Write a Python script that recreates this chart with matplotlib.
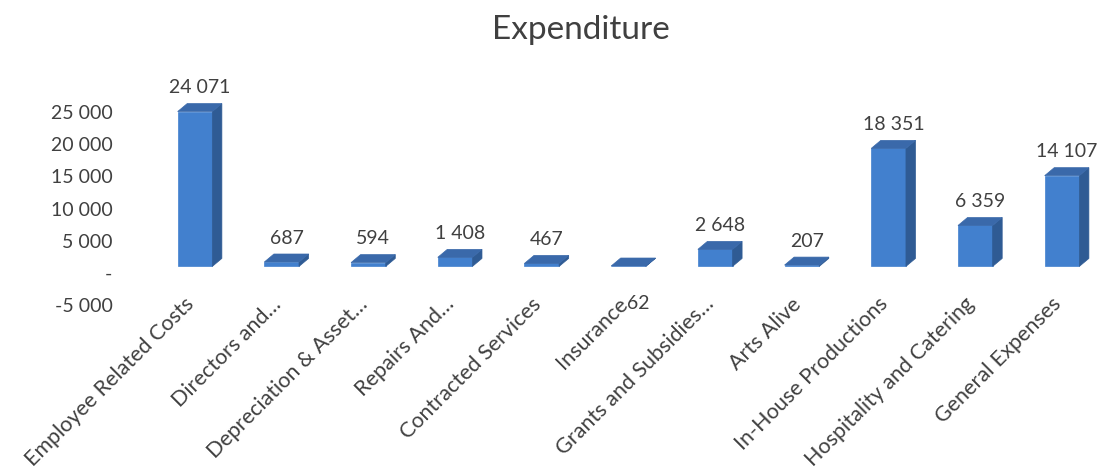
import matplotlib
matplotlib.use("Agg")
import matplotlib.pyplot as plt
from matplotlib.patches import Polygon
from matplotlib.transforms import ScaledTranslation

plt.rcParams['font.family'] = ['Lato', 'DejaVu Sans']

categories = ["Employee Related Costs", "Directors and…", "Depreciation & Asset…",
              "Repairs And…", "Contracted Services", "Insurance",
              "Grants and Subsidies…", "Arts Alive", "In-House Productions",
              "Hospitality and Catering", "General Expenses"]
values = [24071, 687, 594, 1408, 467, 62, 2648, 207, 18351, 6359, 14107]
yticks = [-5000, 0, 5000, 10000, 15000, 20000, 25000]

def fmt(v):
    return "-" if v == 0 else f"{v:,}".replace(",", " ")

W, H = 1098, 474
fig = plt.figure(figsize=(W / 100, H / 100), dpi=100)
ax = fig.add_axes([150 / W, 1 - 305 / H, (W - 150) / W, (305 - 112) / H])
ax.set_xlim(-0.519, 10.415)
ax.set_ylim(-5000, 25000)

front = "#4280CE"
side = "#2F5B94"
top = "#3A69AA"
txt = "#404040"
w = 0.40      # front face width (category units)
dx = 0.11     # depth projection, horizontal
dy = 1240     # depth projection, vertical (data units)
oy = 1000     # perspective lift of bar base

for i, v in enumerate(values):
    x0, x1 = i - w / 2, i + w / 2
    b, t = oy, v + oy
    ax.add_patch(Polygon([(x0, b), (x1, b), (x1, t), (x0, t)], closed=True,
                         facecolor=front, edgecolor=front, lw=0.5, clip_on=False))
    ax.add_patch(Polygon([(x1, b), (x1 + dx, b + dy), (x1 + dx, t + dy), (x1, t)], closed=True,
                         facecolor=side, edgecolor=side, lw=0.5, clip_on=False))
    ax.add_patch(Polygon([(x0, t), (x1, t), (x1 + dx, t + dy), (x0 + dx, t + dy)], closed=True,
                         facecolor=top, edgecolor=top, lw=0.5, clip_on=False))
    if v < 100:
        ax.annotate(fmt(v), (i, 0), xytext=(7, -22), textcoords="offset points",
                    ha="center", va="center", fontsize=14, color=txt,
                    annotation_clip=False)
    else:
        ax.annotate(fmt(v), (i + dx / 2, t + dy), xytext=(0, 11.5), textcoords="offset points",
                    ha="center", va="center", fontsize=14, color=txt,
                    annotation_clip=False)

ax.set_yticks(yticks)
ax.set_yticklabels([fmt(t) for t in yticks], fontsize=14, color=txt)
ax.set_xticks(range(len(categories)))
ax.set_xticklabels(categories, rotation=45, ha="right", rotation_mode="anchor",
                   fontsize=15.5, color=txt)
ax.tick_params(axis="both", length=0)
ax.tick_params(axis="y", pad=27)
ax.tick_params(axis="x", pad=0)
shift = ScaledTranslation(-11 / 100, 11 / 100, fig.dpi_scale_trans)
for lab in ax.get_xticklabels():
    lab.set_transform(lab.get_transform() + shift)
for s in ax.spines.values():
    s.set_visible(False)
ax.patch.set_alpha(0)

fig.text(581 / W, 1 - 39 / H, "Expenditure", ha="center", va="baseline",
         fontsize=24, color=txt)

fig.savefig("out.png", dpi=100)
